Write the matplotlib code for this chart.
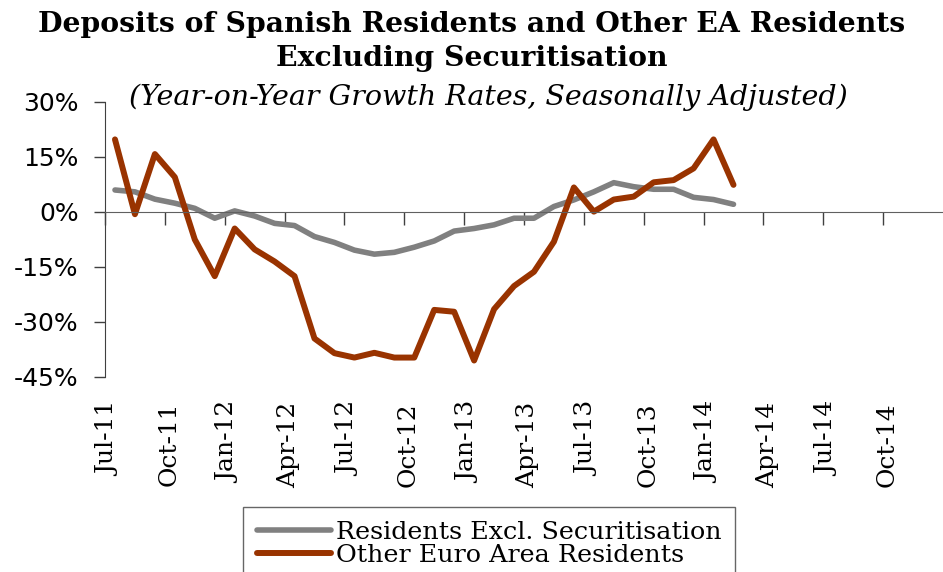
import matplotlib
matplotlib.use("Agg")
import matplotlib.pyplot as plt
import matplotlib.transforms as mtransforms
import numpy as np

months = ["Jul-11", "Aug-11", "Sep-11", "Oct-11", "Nov-11", "Dec-11", "Jan-12", "Feb-12",
          "Mar-12", "Apr-12", "May-12", "Jun-12", "Jul-12", "Aug-12", "Sep-12", "Oct-12",
          "Nov-12", "Dec-12", "Jan-13", "Feb-13", "Mar-13", "Apr-13", "May-13", "Jun-13",
          "Jul-13", "Aug-13", "Sep-13", "Oct-13", "Nov-13", "Dec-13", "Jan-14", "Feb-14"]
residents = [6.0, 5.5, 3.5, 2.4, 1.0, -1.7, 0.3, -1.1, -3.1, -3.7, -6.7, -8.3, -10.4, -11.5,
             -11.0, -9.6, -7.9, -5.2, -4.5, -3.5, -1.7, -1.7, 1.5, 3.3, 5.5, 8.0, 6.9, 6.2,
             6.2, 4.0, 3.4, 2.1]
other_ea = [19.8, -0.6, 15.8, 9.5, -7.5, -17.5, -4.5, -10.2, -13.5, -17.5, -34.5, -38.5,
            -39.7, -38.4, -39.7, -39.7, -26.7, -27.2, -40.5, -26.5, -20.2, -16.3, -8.1, 6.7,
            0.1, 3.4, 4.2, 8.1, 8.7, 11.9, 19.8, 7.4]
tick_labels = ["Jul-11", "Oct-11", "Jan-12", "Apr-12", "Jul-12", "Oct-12", "Jan-13", "Apr-13",
               "Jul-13", "Oct-13", "Jan-14", "Apr-14", "Jul-14", "Oct-14"]
y_ticks = [-45, -30, -15, 0, 15, 30]
n_axis_months = 42

plt.rcParams["font.family"] = ["DejaVu Serif"]

fig = plt.figure(figsize=(9.43, 5.72), dpi=100)
ax = fig.add_axes([105/943, 1-377/572, (943-105)/943, 275/572])

x = np.arange(len(months)) + 0.5
ax.plot(x, residents, color="#808080", lw=4.0, solid_capstyle="round", solid_joinstyle="round",
        label="Residents Excl. Securitisation")
ax.plot(x, other_ea, color="#993300", lw=4.3, solid_capstyle="round", solid_joinstyle="round",
        label="Other Euro Area Residents")

ax.set_xlim(0, n_axis_months)
ax.set_ylim(-45, 30)
ax.set_yticks(y_ticks)
ax.set_yticklabels([f"{v}%" for v in y_ticks], fontsize=18, family="DejaVu Sans")
ax.tick_params(axis="y", direction="out", length=8, width=1, color="#404040", pad=11)

for s in ["top", "right"]:
    ax.spines[s].set_visible(False)
ax.spines["left"].set_color("#404040")
ax.spines["bottom"].set_position(("data", 0))
ax.spines["bottom"].set_color("#606060")
tick_pos = np.arange(0, n_axis_months, 3)
ax.set_xticks(tick_pos)
ax.set_xticklabels([])
ax.tick_params(axis="x", direction="out", length=9, width=1, color="#404040")

sec = ax.secondary_xaxis("bottom")
sec.spines["bottom"].set_visible(False)
sec.set_xticks(tick_pos)
sec.set_xticklabels(tick_labels, rotation=90, fontsize=18)
sec.tick_params(axis="x", length=0, pad=18)
offset = mtransforms.ScaledTranslation(4/100, 0, fig.dpi_scale_trans)
for lab in sec.get_xticklabels():
    lab.set_transform(lab.get_transform() + offset)

fig.text(0.5, 1-25/572, "Deposits of Spanish Residents and Other EA Residents", ha="center",
         va="center", fontsize=20.3, fontweight="bold")
fig.text(0.5, 1-59/572, "Excluding Securitisation", ha="center", va="center", fontsize=20.3,
         fontweight="bold")
fig.text(488/943, 1-97/572, "(Year-on-Year Growth Rates, Seasonally Adjusted)", ha="center",
         va="center", fontsize=20.5, style="italic")

leg = fig.legend(loc="upper left", bbox_to_anchor=(243/943, 1-507/572), fontsize=18.3,
                 handlelength=2.9, frameon=True, fancybox=False, edgecolor="#404040",
                 labelspacing=0.0, borderpad=0.55, handletextpad=0.2, borderaxespad=0)
leg.get_frame().set_linewidth(1)
for t in leg.get_texts():
    pass

fig.savefig("out.png", dpi=100)
